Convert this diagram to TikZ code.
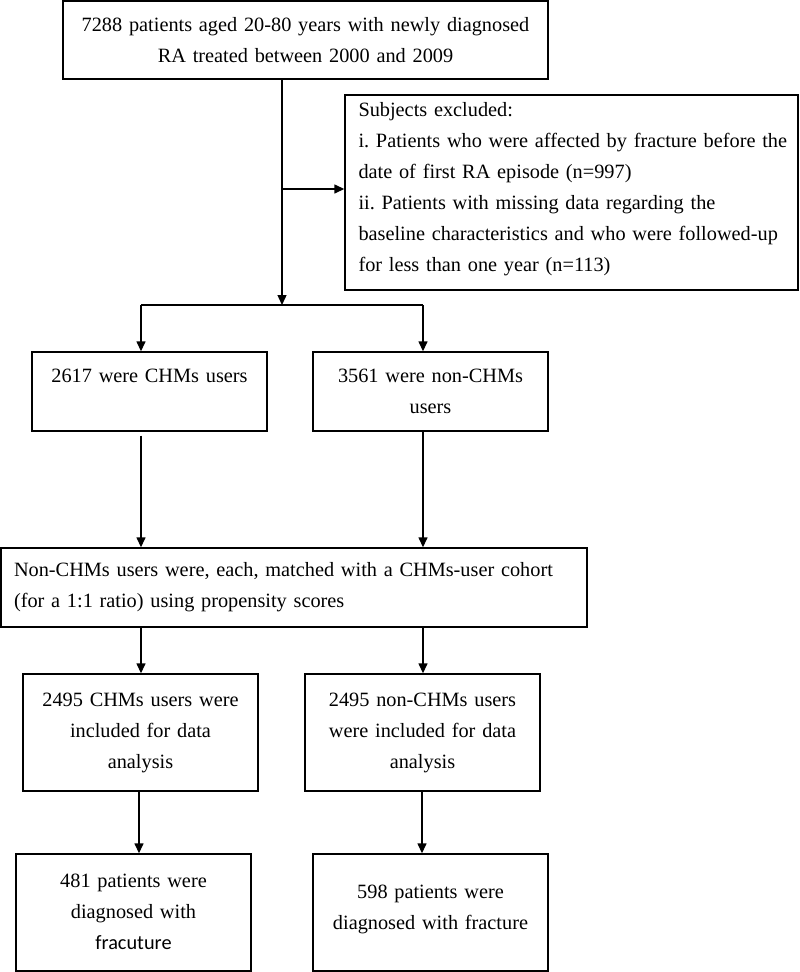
\documentclass[tikz,border=0pt]{standalone}
\usepackage{fontspec}
\setmainfont{Liberation Serif}
\newfontfamily\calib{Carlito}
\usetikzlibrary{arrows.meta}
\frenchspacing
\newcommand\myind{\hspace*{6pt}}
\begin{document}
\begin{tikzpicture}[x=1pt,y=-1pt,
  every node/.style={font=\fontsize{20.3}{31}\selectfont, inner sep=0pt},
  box/.style={draw, line width=1.4pt, align=center},
  lbox/.style={draw, line width=1.4pt, align=left},
  arr/.style={line width=1.4pt, -{Triangle[length=10pt,width=9pt]}},
  ln/.style={line width=1.4pt}]
\useasboundingbox (0,0) rectangle (800,972);
% boxes
\node[box, minimum width=485, minimum height=78, text width=470] (top) at (305.5,40) {7288 patients aged 20-80 years with newly diagnosed\\RA treated between 2000 and 2009};
\node[lbox, minimum width=453, minimum height=195, text width=438] (excl) at (571.5,192.5) {~\\[-23pt]\myind Subjects excluded:\\\myind i. Patients who were affected by fracture before the\\\myind date of first RA episode (n=997)\\\myind ii. Patients with missing data regarding the\\\myind baseline characteristics and who were followed-up\\\myind for less than one year (n=113)};
\node[box, minimum width=235, minimum height=79, text width=225] (chm) at (149.5,391.5) {2617 were CHMs users\\~};
\node[box, minimum width=235, minimum height=79, text width=225] (non) at (430.5,391.5) {3561 were non-CHMs\\users};
\node[lbox, minimum width=586, minimum height=79, text width=560] (match) at (294,587.5) {Non-CHMs users were, each, matched with a CHMs-user cohort\\(for a 1:1 ratio) using propensity scores};
\node[box, minimum width=235, minimum height=117, text width=225] (inc1) at (140.5,732.5) {2495 CHMs users were\\included for data\\analysis};
\node[box, minimum width=235, minimum height=117, text width=225] (inc2) at (422.5,732.5) {2495 non-CHMs users\\were included for data\\analysis};
\node[box, minimum width=235, minimum height=117, text width=225] (fr1) at (133.5,912.5) {~\\[-19pt]481 patients were\\diagnosed with\\{\calib fracuture}};
\node[box, minimum width=235, minimum height=117, text width=225] (fr2) at (430.5,912.5) {598 patients were\\diagnosed with fracture\\[-21pt]~};
% connectors
\coordinate (br) at (282,305);
\coordinate (bl) at (141,305);
\coordinate (bR) at (423,305);
\coordinate (ex) at (282,189);
\draw[arr] (top.south -| br) -- (br);
\draw[arr] (ex) -- (excl.west |- ex);
\draw[ln] (bl) -- (bR);
\draw[arr] (bl) -- (chm.north -| bl);
\draw[arr] (bR) -- (non.north -| bR);
\draw[arr] ([yshift=-4pt]chm.south -| bl) -- (match.north -| bl);
\draw[arr] (non.south -| bR) -- (match.north -| bR);
\draw[arr] (match.south -| bl) -- (inc1.north -| bl);
\draw[arr] (match.south -| bR) -- (inc2.north -| bR);
\coordinate (c1) at (139,0);
\coordinate (c2) at (422,0);
\draw[arr] (inc1.south -| c1) -- (fr1.north -| c1);
\draw[arr] (inc2.south -| c2) -- (fr2.north -| c2);
\end{tikzpicture}
\end{document}
